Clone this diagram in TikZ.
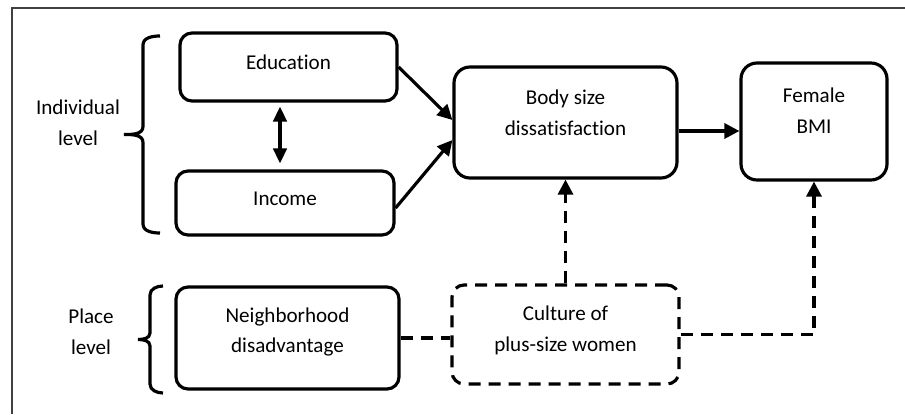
\documentclass[tikz,border=0pt]{standalone}
\usepackage{fontspec}
\setmainfont{Carlito}[Ligatures=NoCommon]
\usetikzlibrary{arrows.meta}
\begin{document}
\begin{tikzpicture}[
  font=\fontsize{12}{17.5}\selectfont,
  ln/.style={line width=1.8pt},
  box/.style={draw, ln, rounded corners=0.24cm, inner sep=0pt},
  dbox/.style={box, dash pattern=on 0.24cm off 0.16cm},
  lbl/.style={align=center, inner sep=0pt},
  arr/.style={ln, -{Triangle[length=0.3cm,width=0.3cm]}},
  dbl/.style={ln, {Triangle[length=0.3cm,width=0.27cm]}-{Triangle[length=0.3cm,width=0.27cm]}},
  dln/.style={ln, dash pattern=on 0.24cm off 0.16cm},
  darr/.style={arr, dash pattern=on 0.24cm off 0.16cm}
]
\useasboundingbox (0,0) rectangle (18.1,8.28);
\draw[line width=0.7pt, black!75] (0.24,0) -- (0.24,8.12) -- (18.1,8.12);

\node[box, minimum width=4.34cm, minimum height=1.36cm] (edu) at (5.77,6.94) {};
\node[box, minimum width=4.36cm, minimum height=1.28cm] (inc) at (5.70,4.22) {};
\node[box, rounded corners=0.32cm, minimum width=4.46cm, minimum height=2.22cm] (body) at (11.31,5.83) {};
\node[box, rounded corners=0.32cm, minimum width=2.92cm, minimum height=2.34cm] (bmi) at (16.28,5.85) {};
\node[box, minimum width=4.46cm, minimum height=2.04cm] (nbh) at (5.75,1.52) {};
\node[dbox, minimum width=4.54cm, minimum height=1.98cm] (cult) at (11.31,1.59) {};

\node[lbl] (edu-t) at ([yshift=0.1cm]edu.center) {Education};
\node[lbl] (inc-t) at ([yshift=0.08cm]inc.center) {Income};
\node[lbl] (body-t) at ([yshift=0.19cm]body.center) {Body size\\dissatisfaction};
\node[lbl] (bmi-t) at ([yshift=0.22cm]bmi.center) {Female\\BMI};
\node[lbl] (nbh-t) at ([yshift=0.12cm]nbh.center) {Neighborhood\\disadvantage};
\node[lbl] (cult-t) at ([yshift=0.08cm]cult.center) {Culture of\\plus-size women};
\node[lbl] (ind) at (1.56,5.82) {Individual\\level};
\node[lbl] (plc) at (1.82,1.64) {Place\\level};

\draw[ln] (3.2,7.56) to[out=180,in=90] (2.86,7.38) -- (2.86,5.75)
  to[out=-90,in=0] (2.48,5.59) to[out=0,in=90] (2.86,5.43) -- (2.86,3.8)
  to[out=-90,in=180] (3.2,3.62);
\draw[ln] (3.26,2.56) to[out=180,in=90] (3.0,2.38) -- (3.0,1.62)
  to[out=-90,in=0] (2.76,1.49) to[out=0,in=90] (3.0,1.36) -- (3.0,0.6)
  to[out=-90,in=180] (3.26,0.42);

\draw[arr] (edu.east) -- ([yshift=0.05cm]body.west);
\draw[arr] ([yshift=-0.1cm]inc.east) -- ([yshift=-0.35cm]body.west);
\draw[dbl, shorten <=0.08cm, shorten >=0.12cm] ([xshift=-0.17cm]edu.south) -- ([xshift=-0.17cm]edu.south |- inc.north);
\draw[arr] ([yshift=-0.17cm]body.east) -- ([yshift=-0.17cm]body.east -| bmi.west);
\draw[darr] (cult.north) -- (body.south);
\draw[dln] (nbh.east) -- (nbh.east -| cult.west);
\draw[darr] (cult.east) -| (bmi.south);
\end{tikzpicture}
\end{document}
